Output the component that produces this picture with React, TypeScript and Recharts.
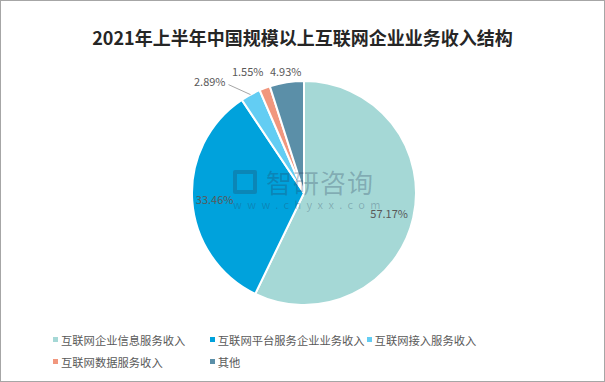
import { PieChart, Pie, Cell } from 'recharts'

const CATEGORIES = ['互联网企业信息服务收入', '互联网平台服务企业业务收入', '互联网接入服务收入', '互联网数据服务收入', '其他']
const SHARES = [57.17, 33.46, 2.89, 1.55, 4.93]
const COLORS = ['#A5D8D6', '#00A2DC', '#63CDF3', '#F1977E', '#5B8FA8']

const data = CATEGORIES.map((name, i) => ({ name, value: SHARES[i] }))

const FONT = '"Noto Sans CJK SC", "Noto Sans", sans-serif'
const RAD = Math.PI / 180

interface LabelProps {
  cx: number
  cy: number
  midAngle: number
  outerRadius: number
  index: number
  value: number
}

// nudges for the small outside labels, relative to the slice's outer edge
const OUTSIDE_NUDGE: Record<number, [number, number]> = {
  3: [-17, -17],
  4: [-1, -11],
}

function renderLabel({ cx, cy, midAngle, outerRadius, index, value }: LabelProps) {
  const cos = Math.cos(-midAngle * RAD)
  const sin = Math.sin(-midAngle * RAD)
  const text = `${value.toFixed(2)}%`
  const style = { fontSize: 11, fill: '#595959', fontFamily: FONT }
  if (index < 2) {
    const r = outerRadius * (index === 0 ? 0.78 : 0.8)
    return (
      <text x={cx + r * cos} y={cy + r * sin} textAnchor="middle" dominantBaseline="central" style={style}>
        {text}
      </text>
    )
  }
  const ex = cx + outerRadius * cos
  const ey = cy + outerRadius * sin
  if (index === 2) {
    // leader line for the narrow slice
    const lx = ex - 22
    const ly = ey - 10
    return (
      <g>
        <path d={`M${ex},${ey}L${lx},${ly}`} stroke="#A6A6A6" fill="none" />
        <text x={lx - 3} y={ly - 4} textAnchor="end" dominantBaseline="central" style={style}>
          {text}
        </text>
      </g>
    )
  }
  const [nx, ny] = OUTSIDE_NUDGE[index]
  return (
    <text x={ex + nx} y={ey + ny} textAnchor="middle" dominantBaseline="central" style={style}>
      {text}
    </text>
  )
}

function ChartLegend() {
  return (
    <div
      style={{
        position: 'absolute',
        left: 52,
        top: 329,
        display: 'flex',
        flexWrap: 'wrap',
        width: 480,
        rowGap: 3,
        fontFamily: FONT,
        fontSize: 11.3,
        color: '#595959',
      }}
    >
      {CATEGORIES.map((name, i) => (
        <div key={name} style={{ width: i % 3 === 2 ? 160 : 156.8, display: 'flex', alignItems: 'center', height: 19 }}>
          <span style={{ width: 5, height: 5, background: COLORS[i], display: 'inline-block', marginRight: 3 }} />
          <span>{name}</span>
        </div>
      ))}
    </div>
  )
}

export default function App() {
  return (
    <div
      style={{
        position: 'absolute',
        left: 0,
        top: 0,
        width: 605,
        height: 382,
        boxSizing: 'border-box',
        border: '1px solid #A6A6A6',
        background: '#fff',
        overflow: 'hidden',
      }}
    >
      <div
        style={{
          position: 'absolute',
          top: 24,
          width: '100%',
          textAlign: 'center',
          fontFamily: FONT,
          fontSize: 18,
          fontWeight: 'bold',
          color: '#262626',
          lineHeight: '24px',
        }}
      >
        2021年上半年中国规模以上互联网企业业务收入结构
      </div>
      <div style={{ position: 'absolute', left: -1, top: -1 }}>
        <PieChart width={605} height={382} margin={{ top: 0, right: 0, bottom: 0, left: 0 }}>
          <Pie
            data={data}
            dataKey="value"
            nameKey="name"
            cx={304}
            cy={193}
            outerRadius={112}
            startAngle={90}
            endAngle={-270}
            stroke="#fff"
            strokeWidth={2}
            label={renderLabel}
            labelLine={false}
            isAnimationActive={false}
          >
            {data.map((d, i) => (
              <Cell key={d.name} fill={COLORS[i]} />
            ))}
          </Pie>
        </PieChart>
      </div>
      <ChartLegend />
      {/* watermark */}
      <div style={{ position: 'absolute', left: 232, top: 166, pointerEvents: 'none', fontFamily: FONT, color: 'rgba(40,60,90,0.28)' }}>
        <div style={{ display: 'flex', alignItems: 'center' }}>
          <span style={{ width: 24, height: 24, border: '4px solid rgba(40,60,90,0.28)', boxSizing: 'border-box', marginRight: 9, borderRadius: 2 }} />
          <span style={{ fontSize: 26, lineHeight: '30px', letterSpacing: 1 }}>智研咨询</span>
        </div>
        <div style={{ fontSize: 11, letterSpacing: 5.4, marginTop: 0, lineHeight: '14px' }}>www.chyxx.com</div>
      </div>
    </div>
  )
}
